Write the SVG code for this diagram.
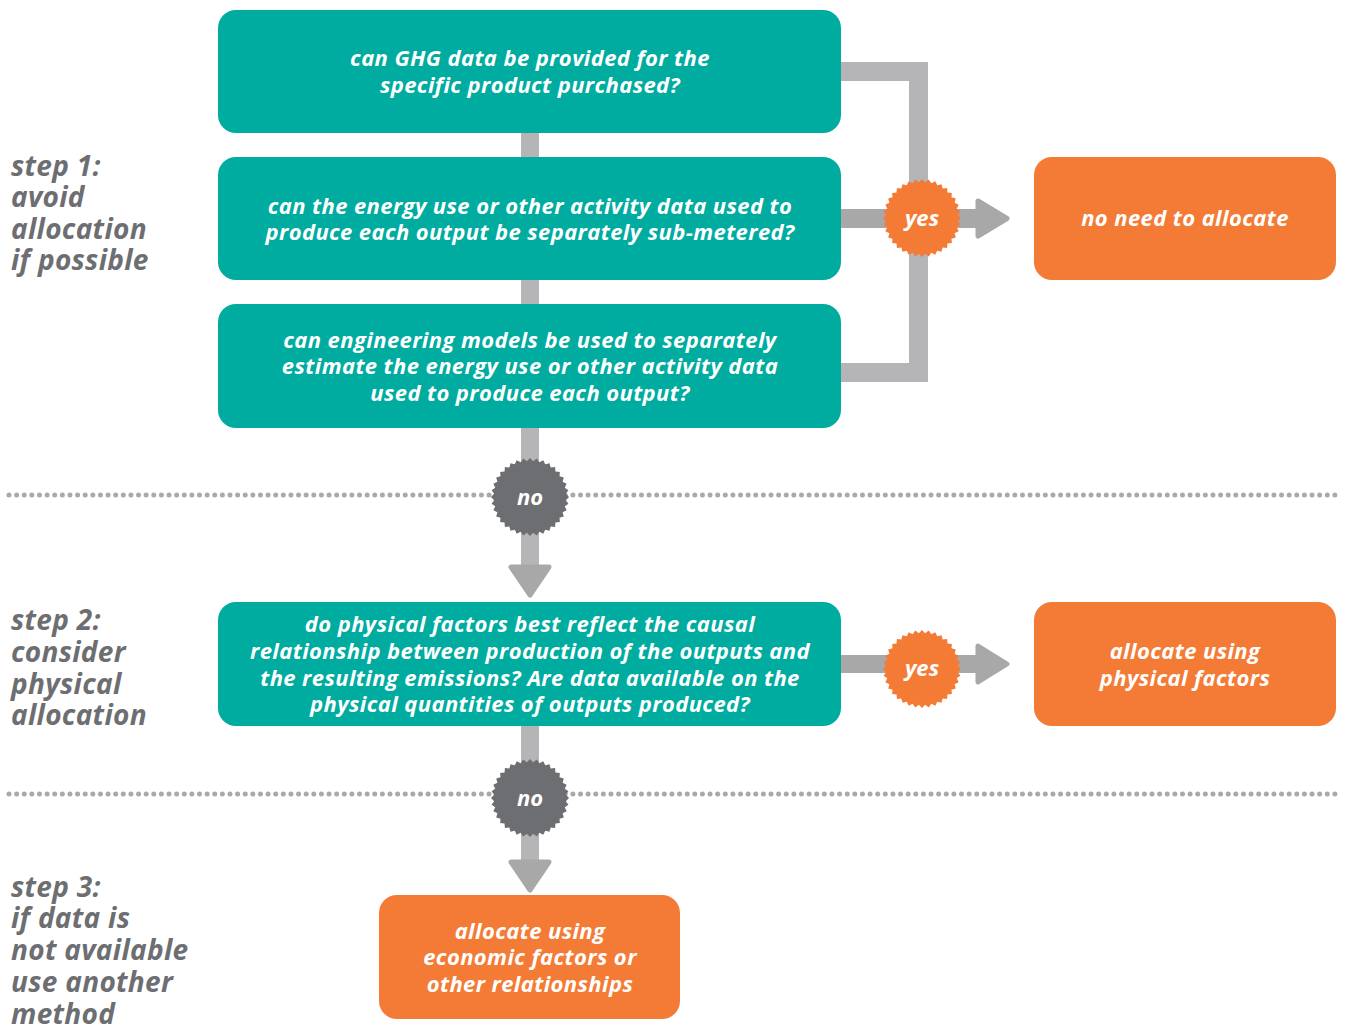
<svg xmlns="http://www.w3.org/2000/svg" xmlns:xlink="http://www.w3.org/1999/xlink" width="1350" height="1028" viewBox="0 0 1350 1028">
<style>
.teal{fill:#00ab9f}
.orange{fill:#f47b36}
.bt{font-family:"Open Sans","DejaVu Sans",sans-serif;font-weight:700;font-style:italic;font-size:22px;letter-spacing:0.4px;fill:#ffffff;text-anchor:middle}
.bd{font-family:"Open Sans","DejaVu Sans",sans-serif;font-weight:700;font-style:italic;font-size:22px;fill:#ffffff;text-anchor:middle}
.step{font-family:"Open Sans","DejaVu Sans",sans-serif;font-weight:700;font-style:italic;font-size:28px;letter-spacing:0.3px;fill:#6d6e71}
.bar{fill:#b5b5b7}
.barD{fill:#a8a8a8}
.head{fill:#a8a8a8;stroke:#a8a8a8;stroke-width:5;stroke-linejoin:round}
.dots{stroke:#a9a9ac;stroke-width:5;stroke-linecap:round;stroke-dasharray:0 7.62;fill:none}
</style>
<defs>
<polygon id="burst" points="39,0 35.86,3.14 38.41,6.77 34.77,9.32 36.65,13.34 32.63,15.21 33.78,19.5 29.49,20.65 29.88,25.07 25.46,25.46 25.07,29.88 20.65,29.49 19.5,33.78 15.21,32.63 13.34,36.65 9.32,34.77 6.77,38.41 3.14,35.86 0,39 -3.14,35.86 -6.77,38.41 -9.32,34.77 -13.34,36.65 -15.21,32.63 -19.5,33.78 -20.65,29.49 -25.07,29.88 -25.46,25.46 -29.88,25.07 -29.49,20.65 -33.78,19.5 -32.63,15.21 -36.65,13.34 -34.77,9.32 -38.41,6.77 -35.86,3.14 -39,0 -35.86,-3.14 -38.41,-6.77 -34.77,-9.32 -36.65,-13.34 -32.63,-15.21 -33.78,-19.5 -29.49,-20.65 -29.88,-25.07 -25.46,-25.46 -25.07,-29.88 -20.65,-29.49 -19.5,-33.78 -15.21,-32.63 -13.34,-36.65 -9.32,-34.77 -6.77,-38.41 -3.14,-35.86 0,-39 3.14,-35.86 6.77,-38.41 9.32,-34.77 13.34,-36.65 15.21,-32.63 19.5,-33.78 20.65,-29.49 25.07,-29.88 25.46,-25.46 29.88,-25.07 29.49,-20.65 33.78,-19.5 32.63,-15.21 36.65,-13.34 34.77,-9.32 38.41,-6.77 35.86,-3.14"/>
</defs>

<g id="separators">
<line class="dots" x1="9" y1="495" x2="1342" y2="495"/>
<line class="dots" x1="9" y1="794" x2="1342" y2="794"/>
</g>

<g id="connectors">
<rect class="bar" x="521" y="130" width="18" height="30"/>
<rect class="bar" x="521" y="277" width="18" height="30"/>
<rect class="bar" x="521" y="425" width="18" height="145"/>
<polygon class="head" points="511,567 549,567 530,595"/>
<rect class="bar" x="521" y="723" width="18" height="140"/>
<polygon class="head" points="511,862 549,862 530,890"/>
<rect class="bar" x="838" y="62" width="90" height="19"/>
<rect class="bar" x="909" y="62" width="19" height="320"/>
<rect class="bar" x="838" y="363" width="90" height="19"/>
<rect class="barD" x="838" y="209" width="142" height="19"/>
<polygon class="head" points="978,201 1007,218.5 978,236"/>
<rect class="barD" x="838" y="655" width="142" height="18"/>
<polygon class="head" points="978,646 1007,664 978,682"/>
</g>

<g id="box1">
<rect class="teal" x="218" y="10" width="623" height="123" rx="18"/>
<text class="bt" x="530" y="66">can GHG data be provided for the</text>
<text class="bt" x="530" y="93">specific product purchased?</text>
</g>
<g id="box2">
<rect class="teal" x="218" y="157" width="623" height="123" rx="18"/>
<text class="bt" x="530" y="214">can the energy use or other activity data used to</text>
<text class="bt" x="530" y="240">produce each output be separately sub-metered?</text>
</g>
<g id="box3">
<rect class="teal" x="218" y="304" width="623" height="124" rx="18"/>
<text class="bt" x="530" y="348">can engineering models be used to separately</text>
<text class="bt" x="530" y="374">estimate the energy use or other activity data</text>
<text class="bt" x="530" y="401">used to produce each output?</text>
</g>
<g id="box4">
<rect class="teal" x="218" y="602" width="623" height="124" rx="18"/>
<text class="bt" x="530" y="632">do physical factors best reflect the causal</text>
<text class="bt" x="530" y="659">relationship between production of the outputs and</text>
<text class="bt" x="530" y="686">the resulting emissions? Are data available on the</text>
<text class="bt" x="530" y="712">physical quantities of outputs produced?</text>
</g>
<g id="out1">
<rect class="orange" x="1034" y="157" width="302" height="123" rx="18"/>
<text class="bt" x="1185" y="226">no need to allocate</text>
</g>
<g id="out2">
<rect class="orange" x="1034" y="602" width="302" height="124" rx="18"/>
<text class="bt" x="1185" y="659">allocate using</text>
<text class="bt" x="1185" y="686">physical factors</text>
</g>
<g id="out3">
<rect class="orange" x="379" y="895" width="301" height="124" rx="18"/>
<text class="bt" x="530" y="939">allocate using</text>
<text class="bt" x="530" y="965">economic factors or</text>
<text class="bt" x="530" y="992">other relationships</text>
</g>

<g id="yes1">
<use xlink:href="#burst" x="922" y="218" fill="#f47b36"/>
<text class="bd" x="922" y="226">yes</text>
</g>
<g id="yes2">
<use xlink:href="#burst" x="922" y="669" fill="#f47b36"/>
<text class="bd" x="922" y="676">yes</text>
</g>
<g id="no1">
<use xlink:href="#burst" x="530" y="497" fill="#6d6e71"/>
<text class="bd" x="530" y="505">no</text>
</g>
<g id="no2">
<use xlink:href="#burst" x="530" y="798" fill="#6d6e71"/>
<text class="bd" x="530" y="806">no</text>
</g>

<g id="step1">
<text class="step" x="11" y="176">step 1:</text>
<text class="step" x="11" y="207">avoid</text>
<text class="step" x="11" y="239">allocation</text>
<text class="step" x="11" y="270">if possible</text>
</g>
<g id="step2">
<text class="step" x="11" y="630">step 2:</text>
<text class="step" x="11" y="662">consider</text>
<text class="step" x="11" y="694">physical</text>
<text class="step" x="11" y="725">allocation</text>
</g>
<g id="step3">
<text class="step" x="11" y="897">step 3:</text>
<text class="step" x="11" y="928">if data is</text>
<text class="step" x="11" y="960">not available</text>
<text class="step" x="11" y="992">use another</text>
<text class="step" x="11" y="1024">method</text>
</g>
</svg>
